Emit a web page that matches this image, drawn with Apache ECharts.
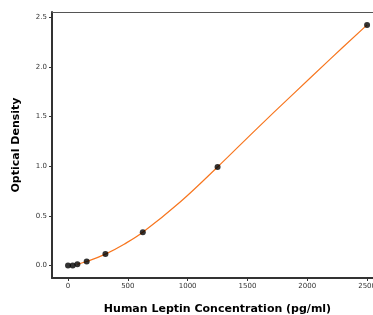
<!DOCTYPE html>
<html>
<head>
    <meta charset="utf-8">
    <title>Human Leptin standard curve</title>
    <style>
        html, body { margin: 0; padding: 0; background: #fff; }
        #chart { width: 373px; height: 315px; }
    </style>
</head>
<body>
<div id="chart"></div>
<script src="https://cdn.jsdelivr.net/npm/echarts@6/dist/echarts.min.js"></script>
<script>
    // standard points (pg/ml, OD)
    var concData = [0, 39, 78, 156, 312.5, 625, 1250, 2500];
    var odData = [0.0, 0.0, 0.012, 0.04, 0.115, 0.335, 0.993, 2.425];
    // fitted curve
    var curveX = [78, 156, 312.5, 469, 625, 937.5, 1250, 1562, 1875, 2187, 2500];
    var curveY = [0.012, 0.04, 0.115, 0.215, 0.335, 0.64, 0.993, 1.36, 1.72, 2.075, 2.425];
    var xTicks = [0, 500, 1000, 1500, 2000, 2500];
    var yTicks = [0, 0.5, 1.0, 1.5, 2.0, 2.5];

    var pts = concData.map(function (c, i) { return [c, odData[i]]; });
    var curve = curveX.map(function (c, i) { return [c, curveY[i]]; });

    var font = 'DejaVu Sans';
    var option = {
        backgroundColor: '#fff',
        animation: false,
        grid: { left: 52, right: -10, top: 12, bottom: 37, outerBoundsMode: 'none', containLabel: false },
        xAxis: [{
            type: 'value',
            min: -134, max: 2633,
            name: 'Human Leptin Concentration (pg/ml)',
            nameLocation: 'middle', nameGap: 26,
            nameTextStyle: { fontFamily: font, fontWeight: 'bold', fontSize: 11, color: '#000' },
            axisLine: { show: true, onZero: false, lineStyle: { color: '#333', width: 2 } },
            axisTick: { show: true, length: 3, customValues: xTicks, lineStyle: { color: '#333' } },
            axisLabel: {
                customValues: xTicks, fontFamily: font, fontSize: 7, color: '#333', margin: 5,
                formatter: function (v) { return String(v); }
            },
            splitLine: { show: false }
        }, {
            type: 'value', position: 'top',
            min: -134, max: 2633,
            axisLine: { show: true, onZero: false, lineStyle: { color: '#555', width: 1 } },
            axisTick: { show: false }, axisLabel: { show: false }, splitLine: { show: false }
        }],
        yAxis: {
            type: 'value',
            min: -0.126, max: 2.555,
            name: 'Optical Density',
            nameLocation: 'middle', nameGap: 30,
            nameTextStyle: { fontFamily: font, fontWeight: 'bold', fontSize: 11, color: '#000' },
            axisLine: { show: true, onZero: false, lineStyle: { color: '#333', width: 2 } },
            axisTick: { show: true, length: 3, customValues: yTicks, lineStyle: { color: '#333' } },
            axisLabel: {
                customValues: yTicks, fontFamily: font, fontSize: 7, color: '#333', margin: 5,
                formatter: function (v) { return v.toFixed(1); }
            },
            splitLine: { show: false }
        },
        series: [
            {
                name: 'fit', type: 'line', data: curve, smooth: 0.4,
                showSymbol: false, symbol: 'none',
                lineStyle: { color: '#f7761f', width: 1.2 }
            },
            {
                name: 'std', type: 'scatter', data: pts, symbolSize: 6,
                itemStyle: { color: '#000' }, z: 5
            }
        ]
    };
    var chart = echarts.init(document.getElementById('chart'));
    chart.setOption(option);
</script>
</body>
</html>
